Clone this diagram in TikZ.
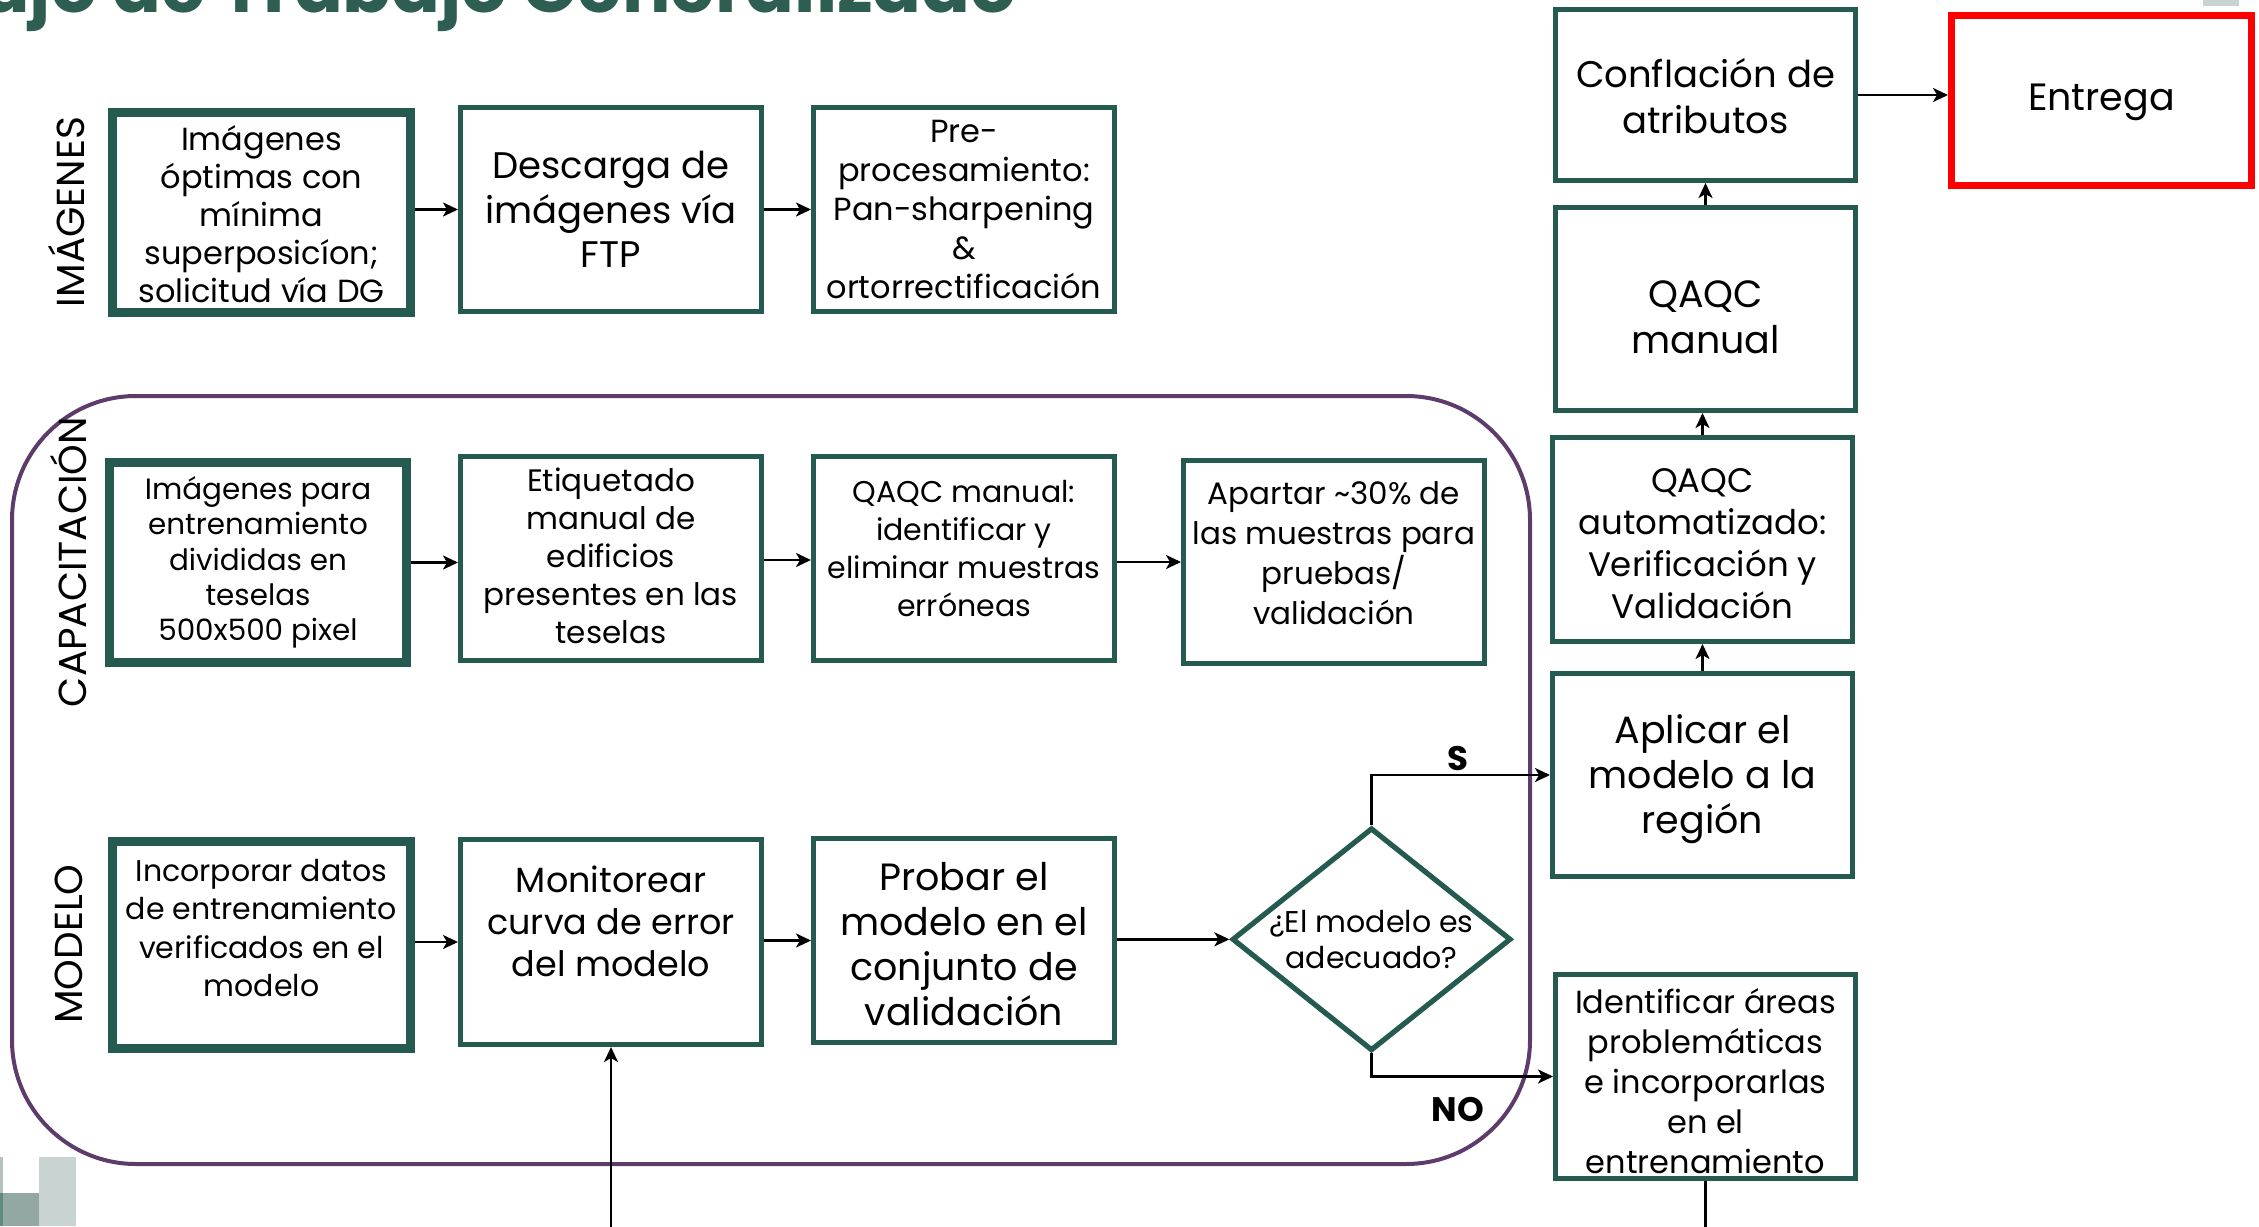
\documentclass[tikz,border=0pt]{standalone}
\usepackage{fontspec}
\setmainfont{Poppins}
\usetikzlibrary{arrows.meta,shapes.geometric}

\definecolor{boxgreen}{HTML}{245A50}
\definecolor{titlegreen}{HTML}{2E5D52}
\definecolor{lanepurple}{HTML}{5D3B6B}
\definecolor{logodark}{HTML}{5F8A80}
\definecolor{logomid}{HTML}{93A8A3}
\definecolor{logolight}{HTML}{C9D3D1}
\definecolor{deliverred}{HTML}{FF0000}

\tikzset{
  stepbox/.style={draw=boxgreen, line width=2.6pt, fill=white, inner sep=0pt},
  keybox/.style={stepbox, line width=4.6pt},
  endbox/.style={draw=deliverred, line width=3.6pt, fill=white, inner sep=0pt},
  decision/.style={diamond, draw=boxgreen, line width=2.6pt, fill=white, inner sep=0pt},
  dims/.style 2 args={minimum width=#1pt, minimum height=#2pt},
  boxtext/.style={align=center, inner sep=0pt, text=black},
  fs/.style 2 args={font=\fontsize{#1}{#2}\selectfont},
  flow/.style={draw=black, line width=1.2pt, -{Stealth[length=7.5pt, width=7pt, inset=2pt]}},
  lanelabel/.style={rotate=90, inner sep=0pt, font=\fontsize{19.5}{19.5}\selectfont},
  branch/.style={inner sep=0pt, font=\bfseries\fontsize{17}{17}\selectfont},
  title/.style={inner sep=0pt, text=titlegreen, font=\bfseries\fontsize{36}{36}\selectfont},
  lane/.style={draw=lanepurple, line width=2pt, rounded corners=62pt},
}

\begin{document}
\begin{tikzpicture}[x=0.5pt, y=-0.5pt]
  \useasboundingbox (0,0) rectangle (2259,1226);
  \clip (0,0) rectangle (2259,1226);

  % heading, partly cut by the top edge
  \node[title, anchor=base east] (heading) at (1017,12) {Flujo de Trabajo Generalizado};

  % corner marks
  \fill[logolight] (39,1157) rectangle (76,1226);
  \fill[logomid] (0,1193) rectangle (39,1226);
  \fill[logodark] (0,1193) rectangle (3,1226);
  \fill[logomid!70!white] (0,1157) rectangle (3,1193);
  \fill[logolight] (2203,0) rectangle (2239,6);

  % training / model lane
  \draw[lane] (12,396) rectangle (1530,1164);

  % lane names
  \node[lanelabel] (lblimg) at (67,212) {IMÁGENES};
  \node[lanelabel] (lblcap) at (69,562) {CAPACITACIÓN};
  \node[lanelabel] (lblmod) at (69,944) {MODELO};

  % imagery row
  \node[keybox, dims={149}{100}] (A1) at (261.5,212.5) {};
  \node[boxtext, fs={16}{19}] (A1t) at ([yshift=-1pt]A1.center) {Imágenes\\óptimas con\\mínima\\superposicíon;\\solicitud vía DG};
  \node[stepbox, dims={150.4}{101.9}] (A2) at (611,209.5) {};
  \node[boxtext, fs={18.5}{22.4}] (A2t) at (A2.center) {Descarga de\\imágenes vía\\FTP};
  \node[stepbox, dims={150.4}{101.9}] (A3) at (964,209.5) {};
  \node[boxtext, fs={16}{19.5}] (A3t) at (A3.center) {Pre-\\procesamiento:\\Pan-sharpening\\\&\\ortorrectificación};

  % training row
  \node[keybox, dims={148.5}{100}] (B1) at (258,562.5) {};
  \node[boxtext, fs={14.7}{17.6}] (B1t) at (B1.center) {Imágenes para\\entrenamiento\\divididas en\\teselas\\500x500 pixel};
  \node[stepbox, dims={150.4}{101.9}] (B2) at (611,558.5) {};
  \node[boxtext, fs={15.5}{19}] (B2t) at ([yshift=1.5pt]B2.center) {Etiquetado\\manual de\\edificios\\presentes en las\\teselas};
  \node[stepbox, dims={150.4}{101.9}] (B3) at (964,558.5) {};
  \node[boxtext, fs={15}{19}] (B3t) at ([yshift=5pt]B3.center) {QAQC manual:\\identificar y\\eliminar muestras\\erróneas};
  \node[stepbox, dims={150.4}{101.4}] (B4) at (1334,562) {};
  \node[boxtext, fs={15.5}{20}] (B4t) at ([yshift=4.5pt]B4.center) {Apartar \textasciitilde30\% de\\las muestras para\\pruebas/\\validación};

  % model row
  \node[keybox, dims={149}{103.4}] (C1) at (261.5,945) {};
  \node[boxtext, fs={15}{19.2}] (C1t) at ([yshift=8.5pt]C1.center) {Incorporar datos\\de entrenamiento\\verificados en el\\modelo};
  \node[stepbox, dims={150.4}{102.4}] (C2) at (611,942) {};
  \node[boxtext, fs={17.5}{21}] (C2t) at ([yshift=10.5pt]C2.center) {Monitorear\\curva de error\\del modelo};
  \node[stepbox, dims={150.4}{101.9}] (C3) at (964,940.5) {};
  \node[boxtext, fs={19}{22.5}] (C3t) at ([yshift=-2pt]C3.center) {Probar el\\modelo en el\\conjunto de\\validación};
  \node[decision, dims={139.5}{111.5}] (check) at (1371.5,939.3) {};
  \node[boxtext, fs={15}{18}] (checkt) at (check.center) {¿El modelo es\\adecuado?};

  % production column
  \node[stepbox, dims={149.9}{101.4}] (D1) at (1702.5,775) {};
  \node[boxtext, fs={19}{22.4}] (D1t) at ([yshift=-2pt]D1.center) {Aplicar el\\modelo a la\\región};
  \node[stepbox, dims={149.9}{101.9}] (D2) at (1702.5,539.5) {};
  \node[boxtext, fs={17}{21}] (D2t) at ([yshift=-2pt]D2.center) {QAQC\\automatizado:\\Verificación y\\Validación};
  \node[stepbox, dims={149.9}{101.4}] (D3) at (1705.5,309) {};
  \node[boxtext, fs={19}{23}] (D3t) at ([yshift=-4pt]D3.center) {QAQC\\manual};
  \node[stepbox, dims={149.9}{85.4}] (D4) at (1705.5,95) {};
  \node[boxtext, fs={18.5}{23}] (D4t) at ([yshift=-0.5pt]D4.center) {Conflación de\\atributos};
  \node[endbox, dims={149.9}{84.9}] (deliver) at (2101.5,100.5) {};
  \node[boxtext, fs={19}{23}] (delivert) at ([yshift=-1pt]deliver.center) {Entrega};
  \node[stepbox, dims={149.9}{101.9}] (fix) at (1705.5,1076.5) {};
  \node[boxtext, fs={16}{20}] (fixt) at ([yshift=-2.5pt]fix.center) {Identificar áreas\\problemáticas\\e incorporarlas\\en el\\entrenamiento};

  % connectors
  \draw[flow] (A1.east |- A2.center) -- (A2.west);
  \draw[flow] (A2.east) -- (A3.west);
  \draw[flow] (B1.east) -- (B1.east -| B2.west);
  \draw[flow] (B2.east |- 0,560) -- (B3.west |- 0,560);
  \draw[flow] (B3.east |- B4.center) -- (B4.west);
  \draw[flow] (C1.east |- C2.center) -- (C2.west);
  \draw[flow] (C2.east |- C3.center) -- (C3.west);
  \draw[flow] (C3.east |- check.center) -- (check.west);
  \draw[flow] (check.north) |- (D1.west);
  \draw[flow] (check.south) |- (fix.west);
  \draw[flow] (D1.north) -- (D1.north |- D2.south);
  \draw[flow] (D2.north) -- (D2.north |- D3.south);
  \draw[flow] (D3.north) -- (D3.north |- D4.south);
  \draw[flow] (D4.east) -- (D4.east -| deliver.west);
  \coordinate (loopback) at (1200,1300);
  \draw[flow] (fix.south) |- (loopback) -| (C2.south);

  % branch labels
  \node[branch] (yes) at (1458,759) {S};
  \node[branch] (no) at (1458,1109) {NO};
\end{tikzpicture}
\end{document}
